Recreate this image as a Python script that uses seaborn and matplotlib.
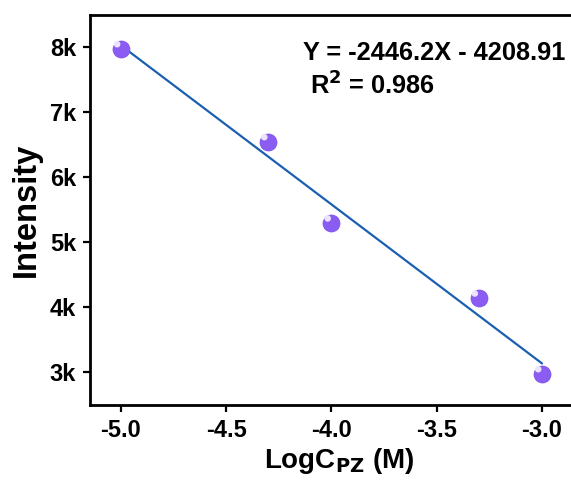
import matplotlib
matplotlib.use("Agg")
import matplotlib.pyplot as plt
import seaborn as sns
import numpy as np
import pandas as pd
from matplotlib.ticker import FuncFormatter

log_c = [-5.0, -4.301, -4.0, -3.301, -3.0]
intensity = [7970, 6540, 5290, 4135, 2970]
slope = -2446.2
intercept = -4208.91
x_ticks = [-5.0, -4.5, -4.0, -3.5, -3.0]
y_ticks = [3000, 4000, 5000, 6000, 7000, 8000]

sns.set_style("ticks")
plt.rcParams['font.family'] = ['Liberation Sans', 'DejaVu Sans']
plt.rcParams['font.weight'] = 'bold'
plt.rcParams['mathtext.default'] = 'bf'
for k in ['text.color', 'axes.labelcolor', 'xtick.color', 'ytick.color', 'axes.edgecolor']:
    plt.rcParams[k] = 'black'

fig = plt.figure(figsize=(5.71, 4.8), dpi=100)
ax = fig.add_axes([90/571, 1-405/480, (574-90)/571, (405-15)/480])

df = pd.DataFrame({"x": log_c, "y": intensity})
line_x = np.array([log_c[0], log_c[-1]])
line_df = pd.DataFrame({"x": line_x, "y": slope*line_x + intercept})
sns.lineplot(data=line_df, x="x", y="y", ax=ax, color="#1b5fb3", lw=1.6, zorder=2)
sns.scatterplot(data=df, x="x", y="y", ax=ax, s=150, color="#8a5cf2", edgecolor="#7b4ee6", linewidth=0.5, zorder=3)
sns.scatterplot(data=df, x=np.array(log_c)-0.018, y=np.array(intensity)+70, ax=ax, s=22, color="#ece4ff", edgecolor="none", zorder=4)

ax.set_xlim(-5.147, -2.848)
ax.set_ylim(2490, 8490)
ax.set_xticks(x_ticks)
ax.set_yticks(y_ticks)
ax.yaxis.set_major_formatter(FuncFormatter(lambda v, p: f"{int(round(v/1000))}k"))
ax.xaxis.set_major_formatter(FuncFormatter(lambda v, p: f"{v:.1f}"))
ax.tick_params(direction='out', length=5, width=1.6, labelsize=17, pad=5)
for lab in ax.get_xticklabels() + ax.get_yticklabels():
    lab.set_fontweight('bold')
for s in ax.spines.values():
    s.set_linewidth(2)
    s.set_visible(True)
ax.set_xlabel(r"LogC$_{\mathbf{PZ}}$ (M)", fontsize=20, fontweight='bold')
ax.xaxis.set_label_coords(0.514, -0.105)
ax.set_ylabel("Intensity", fontsize=23.5, fontweight='bold', labelpad=6)

ax.text(-4.135, 7900, "Y = -2446.2X - 4208.91", fontsize=18.3, fontweight='bold', va='center', ha='left')
ax.text(-4.10, 7400, r"R$^\mathbf{2}$ = 0.986", fontsize=18.3, fontweight='bold', va='center', ha='left')

fig.savefig("out.png", dpi=100)
